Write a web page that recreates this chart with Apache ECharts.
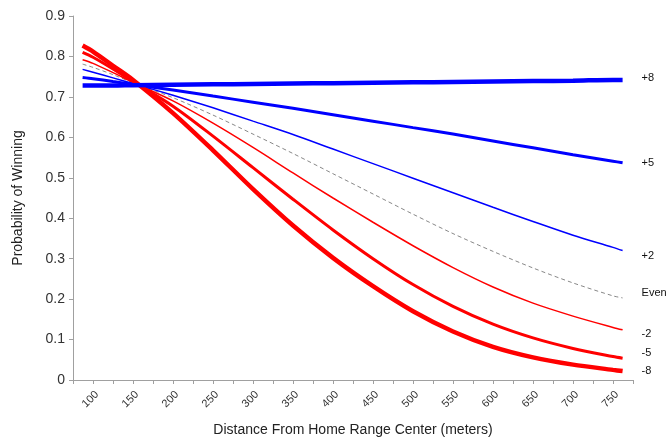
<!DOCTYPE html>
<html>
<head>
<meta charset="utf-8">
<script src="https://cdn.jsdelivr.net/npm/echarts@6/dist/echarts.min.js"></script>
<style>html,body{margin:0;padding:0;background:#fff}#c{width:669px;height:437px}</style>
</head>
<body>
<div id="c"></div>
<script>
const distances = [87,100,125,150,200,250,300,350,400,450,500,550,600,650,700,750,762];
const minus8 = [0.827,0.812,0.777,0.742,0.660,0.568,0.472,0.382,0.302,0.232,0.170,0.120,0.082,0.056,0.038,0.025,0.022];
const minus5 = [0.810,0.798,0.769,0.738,0.677,0.603,0.525,0.447,0.371,0.300,0.236,0.182,0.138,0.104,0.078,0.058,0.054];
const minus2 = [0.792,0.783,0.760,0.736,0.690,0.635,0.575,0.512,0.450,0.390,0.332,0.278,0.230,0.190,0.158,0.130,0.124];
const even   = [0.781,0.773,0.755,0.735,0.698,0.655,0.608,0.560,0.510,0.460,0.410,0.362,0.318,0.277,0.240,0.208,0.203];
const plus2  = [0.768,0.761,0.747,0.733,0.704,0.673,0.640,0.607,0.571,0.535,0.499,0.463,0.427,0.392,0.358,0.328,0.320];
const plus5  = [0.748,0.745,0.738,0.731,0.717,0.702,0.687,0.672,0.656,0.640,0.624,0.608,0.591,0.574,0.557,0.541,0.537];
const plus8  = [0.728,0.728,0.728,0.729,0.730,0.731,0.732,0.733,0.734,0.735,0.736,0.737,0.738,0.739,0.740,0.742,0.742];
const seriesNames = ['+8','+5','+2','Even','-2','-5','-8'];
const xTickLabels = [100,150,200,250,300,350,400,450,500,550,600,650,700,750];

const FONT = 'Liberation Sans, Arial, sans-serif';
const pair = arr => distances.map((d,i)=>[d, arr[i]]);

function mk(name, data, color, width, dy, dashed) {
  return {
    name: name, type: 'line', data: pair(data), smooth: 0.3, symbol: 'none',
    lineStyle: { color: color, width: width, type: dashed ? [4,3] : 'solid' },
    itemStyle: { color: color },
    endLabel: { show: true, formatter: name, distance: 19, offset: [0, dy],
      color: '#111', fontSize: 11, fontFamily: FONT },
    emphasis: { disabled: true },
    z: 2
  };
}

const chart = echarts.init(document.getElementById('c'), null, { renderer: 'canvas' });
chart.setOption({
  animation: false,
  backgroundColor: '#ffffff',
  grid: { left: 73, top: 16, width: 560, height: 364, containLabel: false, outerBoundsMode: 'none' },
  xAxis: {
    type: 'value', min: 75, max: 775, interval: 25,
    name: 'Distance From Home Range Center (meters)',
    nameLocation: 'middle', nameGap: 43,
    nameTextStyle: { fontSize: 14, color: '#222', fontFamily: FONT },
    axisLine: { lineStyle: { color: '#a0a0a0' } },
    axisTick: { show: true, length: 4, lineStyle: { color: '#a0a0a0' } },
    axisLabel: {
      rotate: 45, fontSize: 11, color: '#333', fontFamily: FONT, margin: 9,
      align: 'right', verticalAlign: 'top',
      formatter: v => xTickLabels.indexOf(v) >= 0 ? String(v) : ''
    },
    splitLine: { show: false }
  },
  yAxis: {
    type: 'value', min: 0, max: 0.9, interval: 0.1,
    name: 'Probability of Winning',
    nameLocation: 'middle', nameGap: 48,
    nameTextStyle: { fontSize: 14, color: '#222', fontFamily: FONT },
    axisLine: { show: true, lineStyle: { color: '#a0a0a0' } },
    axisTick: { show: true, length: 4, lineStyle: { color: '#a0a0a0' } },
    axisLabel: { fontSize: 14, color: '#333', fontFamily: FONT, margin: 8,
      formatter: v => String(Math.round(v*10)/10) },
    splitLine: { show: false }
  },
  series: [
    mk('Even', even, '#888888', 1, -5, true),
    mk('-2', minus2, '#ff0000', 1.5, 4),
    mk('+2', plus2, '#0000ff', 1.5, 5),
    mk('-5', minus5, '#ff0000', 3, -5),
    mk('+5', plus5, '#0000ff', 3, 0),
    mk('-8', minus8, '#ff0000', 4.5, 0),
    mk('+8', plus8, '#0000ff', 4.5, -2)
  ]
});
</script>
</body>
</html>
